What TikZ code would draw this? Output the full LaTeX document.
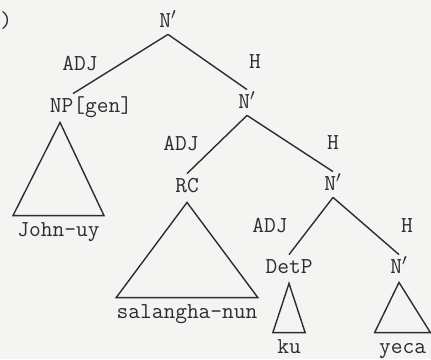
\documentclass[tikz,border=0pt]{standalone}
\usepackage{fontspec}
\usepackage{xcolor}
\usetikzlibrary{positioning,calc,backgrounds}
\definecolor{ink}{RGB}{45,45,45}
\definecolor{paper}{RGB}{244,244,242}
\newcommand{\nbar}{N$'$}
\tikzset{
  cat/.style={font=\ttfamily\fontsize{11.4pt}{13pt}\selectfont,text=ink,inner xsep=1pt,inner ysep=2.5pt,text height=6.5pt,text depth=1pt},
  leaf/.style={cat,inner xsep=2pt,text height=7.5pt,text depth=2pt},
  fn/.style={cat},
  br/.style={draw=ink,line width=0.7pt,line join=miter},
}

\begin{document}
\begin{tikzpicture}[on grid]
  \fill[paper] (0,0) rectangle (215.5pt,-179.5pt);
  \useasboundingbox (0,0) rectangle (215.5pt,-179.5pt);
  \node[cat,inner xsep=0pt,anchor=west] (exnum) at (0pt,-10.75pt) {)};
  % categories
  \node[cat] (top) at (84pt,-10.75pt) {\nbar};
  \node[cat,below left=42.5pt and 38.5pt of top] (np) {NP[gen]};
  \node[cat,below right=40.5pt and 39.5pt of top] (n1) {\nbar};
  \node[cat,below left=42pt and 30pt of n1] (rc) {RC};
  \node[cat,below right=41pt and 43pt of n1] (n2) {\nbar};
  \node[cat,below left=41.5pt and 22pt of n2] (detp) {DetP};
  \node[cat,below right=41.5pt and 33pt of n2] (n3) {\nbar};
  % functions
  \node[fn,above=20.75pt of np,xshift=-5.5pt] (fnp) {ADJ};
  \node[fn,above=19.75pt of n1,xshift=4pt] (fn1) {H};
  \node[fn,above=20.75pt of rc,xshift=-3pt] (frc) {ADJ};
  \node[fn,above=20.25pt of n2] (fn2) {H};
  \node[fn,above=20.25pt of detp,xshift=-9.5pt] (fdetp) {ADJ};
  \node[fn,above=20.25pt of n3,xshift=4pt] (fn3) {H};
  % leaves
  \node[leaf,below left=62pt and 16.25pt of np] (john) {John-uy};
  \node[leaf,inner xsep=0pt,below=63pt of rc] (sal) {salangha-nun};
  \node[leaf,below=40pt of detp] (ku) {ku};
  \node[leaf,below right=40pt and 1.75pt of n3] (yeca) {yeca};
  \draw[br] (top.south) -- ([xshift=-9pt]np.north);
  \draw[br] (top.south) -- (n1.north);
  \draw[br] (n1.south) -- (rc.north);
  \draw[br] (n1.south) -- (n2.north);
  \draw[br] (n2.south) -- (detp.north);
  \draw[br] (n2.south) -- (n3.north);
  \draw[br] ([xshift=-15.5pt,yshift=-1.5pt]np.south) -- (john.north east) -- (john.north west) -- cycle;
  \draw[br] ([yshift=-1.5pt]rc.south) -- (sal.north east) -- (sal.north west) -- cycle;
  \draw[br] ([yshift=-1.5pt]detp.south) -- (ku.north east) -- (ku.north west) -- cycle;
  \draw[br] ([yshift=-1pt]n3.south) -- (yeca.north east) -- (yeca.north west) -- cycle;
\end{tikzpicture}
\end{document}
